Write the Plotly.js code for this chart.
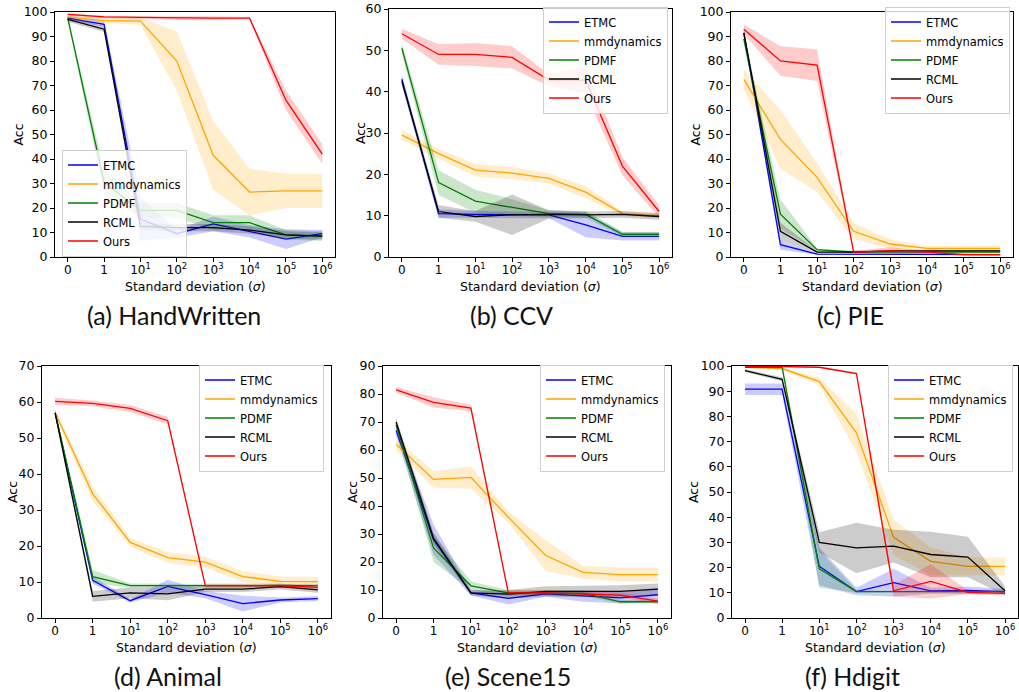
<!DOCTYPE html>
<html><head><meta charset="utf-8">
<script src="https://cdn.plot.ly/plotly-3.0.1.min.js"></script>
<style>html,body{margin:0;padding:0;background:#fff}#chart{width:1019px;height:692px}</style>
</head><body><div id="chart"></div>
<script>
// ---------- data ----------
const xTickLabels = ["0", "1", "10<sup>1</sup>", "10<sup>2</sup>", "10<sup>3</sup>", "10<sup>4</sup>", "10<sup>5</sup>", "10<sup>6</sup>"];
const methods = ["ETMC", "mmdynamics", "PDMF", "RCML", "Ours"];
const datasetNames = ["(a) HandWritten", "(b) CCV", "(c) PIE", "(d) Animal", "(e) Scene15", "(f) Hdigit"];
const yMaxes = [100, 60, 100, 70, 90, 100];

// HandWritten
const handwrittenETMC = [97.5, 95, 15.5, 9.5, 13.5, 10.5, 7.3, 9.5];
const handwrittenETMCStd = [1, 1, 9, 1.5, 3, 2.5, 4, 1.5];
const handwrittenMmdynamics = [98, 96.5, 96.3, 80, 41.5, 26.5, 27, 27];
const handwrittenMmdynamicsStd = [1, 1, 1.5, 12, 14, 9.5, 7, 7];
const handwrittenPDMF = [97.5, 30.5, 19, 19, 14, 14, 9, 8.5];
const handwrittenPDMFStd = [1, 5, 3, 3, 3, 3, 2, 2];
const handwrittenRCML = [97, 93, 12.5, 12, 12, 11, 9, 8.5];
const handwrittenRCMLStd = [1, 1.2, 1.5, 1.5, 1.5, 1.5, 1.5, 1.5];
const handwrittenOurs = [99, 98, 97.8, 97.5, 97.5, 97.5, 64, 42];
const handwrittenOursStd = [0.5, 0.5, 0.5, 0.8, 0.8, 0.5, 4, 4];

// CCV
const ccvETMC = [43, 10.5, 10.3, 10.2, 10.2, 7.8, 5, 5];
const ccvETMCStd = [1.2, 1, 0.8, 0.8, 0.8, 3, 1, 1];
const ccvMmdynamics = [29.5, 25, 21, 20.3, 19, 15.7, 10.5, 10];
const ccvMmdynamicsStd = [1.2, 1.2, 1.5, 1.5, 1.2, 1.5, 0.5, 0.6];
const ccvPDMF = [50.5, 18, 13.5, 12, 10.5, 10.3, 5.5, 5.5];
const ccvPDMFStd = [1.3, 3, 2.8, 2, 0.8, 0.8, 0.6, 0.6];
const ccvRCML = [42.5, 11, 9.8, 10.2, 10.3, 10.2, 10.3, 9.8];
const ccvRCMLStd = [1, 1.5, 1.3, 4.9, 1, 0.8, 0.8, 0.8];
const ccvOurs = [54, 49, 49, 48.3, 42.8, 42.8, 22, 11];
const ccvOursStd = [1.2, 2.5, 2.8, 2.7, 1.5, 3.3, 2.2, 1.5];

// PIE
const pieETMC = [91.5, 5, 1.2, 1.2, 1.2, 1.2, 1, 1];
const pieETMCStd = [1.5, 2, 0.3, 0.3, 0.3, 0.3, 0.3, 0.3];
const pieMmdynamics = [72.5, 48, 32.5, 10.5, 5.3, 3.5, 3.5, 3.5];
const pieMmdynamicsStd = [4, 12, 6, 3.3, 1.8, 1, 1, 1.2];
const piePDMF = [89, 17.5, 3, 2, 2, 2, 2, 2];
const piePDMFStd = [2, 6, 0.5, 0.5, 0.5, 0.5, 0.5, 0.5];
const pieRCML = [91.5, 10.5, 2, 2, 2.5, 2.5, 2.5, 2.5];
const pieRCMLStd = [2, 3.5, 0.5, 0.5, 0.5, 0.5, 0.5, 0.5];
const pieOurs = [93, 80, 78.3, 2, 2.5, 2, 1, 1];
const pieOursStd = [2, 6, 6.5, 0.5, 1.5, 0.5, 0.3, 0.3];

// Animal
const animalETMC = [57, 10.5, 4.8, 8.8, 6.5, 4, 5, 5.4];
const animalETMCStd = [0.8, 1, 0.5, 1.8, 1, 2.2, 0.7, 0.7];
const animalMmdynamics = [57, 34.5, 21, 16.8, 15.5, 11.5, 10.2, 10.1];
const animalMmdynamicsStd = [1, 2, 1.2, 1.5, 1.5, 1.5, 1.3, 1.3];
const animalPDMF = [57, 11.5, 9, 9, 9, 9, 9, 9];
const animalPDMFStd = [0.8, 1.8, 0.6, 0.5, 0.5, 0.5, 0.5, 0.5];
const animalRCML = [57, 6, 7, 6.7, 8, 8, 8.7, 7.8];
const animalRCMLStd = [0.8, 1.5, 1.5, 1.8, 0.8, 0.8, 0.8, 0.8];
const animalOurs = [60.2, 59.6, 58.2, 54.8, 9, 9, 9, 8.5];
const animalOursStd = [1, 0.8, 1, 1, 0.5, 0.5, 0.5, 0.5];

// Scene15
const scene15ETMC = [67, 28, 9, 7, 8.6, 7.8, 7.2, 8.3];
const scene15ETMCStd = [2, 5.5, 1, 2.2, 1, 2, 2, 2.5];
const scene15Mmdynamics = [62, 49.5, 50.2, 36, 22.3, 16.3, 15.5, 15.5];
const scene15MmdynamicsStd = [2, 3, 4, 2, 5.5, 2.3, 2.5, 2.5];
const scene15PDMF = [69, 25, 11.5, 9, 9, 8.8, 5.8, 5.8];
const scene15PDMFStd = [1.5, 5, 1.5, 1, 1, 1, 0.6, 0.6];
const scene15RCML = [70, 28.5, 9, 8.5, 9.5, 9.5, 9.5, 10.3];
const scene15RCMLStd = [1.5, 2, 1, 1.5, 1.8, 2, 2.2, 2];
const scene15Ours = [81.5, 77, 75, 9, 9, 8.7, 8.2, 6];
const scene15OursStd = [1, 1.8, 1.2, 0.8, 0.8, 0.8, 0.8, 1];

// Hdigit
const hdigitETMC = [90.8, 90.8, 20.5, 10.5, 14, 10.8, 11, 10.5];
const hdigitETMCStd = [2.3, 2.3, 7.5, 1.5, 5.5, 1.2, 1.5, 1];
const hdigitMmdynamics = [99.5, 99, 93.8, 73.5, 32, 22.5, 20.5, 20.5];
const hdigitMmdynamicsStd = [0.3, 0.5, 1.5, 7.5, 7, 5.5, 3.5, 3.5];
const hdigitPDMF = [99.5, 99.5, 19.5, 10.5, 10.5, 10.5, 10.5, 10.5];
const hdigitPDMFStd = [0.3, 0.3, 7.5, 0.5, 0.3, 0.3, 0.3, 0.3];
const hdigitRCML = [98.2, 94.7, 30, 27.8, 28.5, 25.2, 24.2, 10.8];
const hdigitRCMLStd = [0.6, 0.8, 4, 10, 6.5, 9, 8, 1.8];
const hdigitOurs = [99.8, 99.8, 99.5, 97, 10.8, 14.5, 10.2, 9.8];
const hdigitOursStd = [0.2, 0.2, 0.3, 0.5, 2.3, 6.8, 0.8, 0.8];

// ---------- assemble ----------
const datasets = [
  [[handwrittenETMC, handwrittenETMCStd], [handwrittenMmdynamics, handwrittenMmdynamicsStd], [handwrittenPDMF, handwrittenPDMFStd], [handwrittenRCML, handwrittenRCMLStd], [handwrittenOurs, handwrittenOursStd]],
  [[ccvETMC, ccvETMCStd], [ccvMmdynamics, ccvMmdynamicsStd], [ccvPDMF, ccvPDMFStd], [ccvRCML, ccvRCMLStd], [ccvOurs, ccvOursStd]],
  [[pieETMC, pieETMCStd], [pieMmdynamics, pieMmdynamicsStd], [piePDMF, piePDMFStd], [pieRCML, pieRCMLStd], [pieOurs, pieOursStd]],
  [[animalETMC, animalETMCStd], [animalMmdynamics, animalMmdynamicsStd], [animalPDMF, animalPDMFStd], [animalRCML, animalRCMLStd], [animalOurs, animalOursStd]],
  [[scene15ETMC, scene15ETMCStd], [scene15Mmdynamics, scene15MmdynamicsStd], [scene15PDMF, scene15PDMFStd], [scene15RCML, scene15RCMLStd], [scene15Ours, scene15OursStd]],
  [[hdigitETMC, hdigitETMCStd], [hdigitMmdynamics, hdigitMmdynamicsStd], [hdigitPDMF, hdigitPDMFStd], [hdigitRCML, hdigitRCMLStd], [hdigitOurs, hdigitOursStd]]
];

const lineColors = ["#0000ff", "#ffa500", "#008000", "#000000", "#ff0000"];
const fillColors = ["rgba(0,0,255,0.2)", "rgba(255,165,0,0.2)", "rgba(0,128,0,0.2)", "rgba(0,0,0,0.2)", "rgba(255,0,0,0.2)"];

const W = 1019, H = 692;
// axes boxes in pixels: [left, right, top, bottom]
const boxes = [
  [55, 335, 12, 257], [389, 672, 9, 257], [731, 1013, 12, 257],
  [42, 331, 366, 618], [383, 671, 366, 618], [732, 1018, 366, 618]
];
// legend left edge and vertical centre, in pixels
const legendPos = [[62, 203], [543, 60], [885, 60], [199, 418], [540, 418], [888, 418]];
const yTitleX = [18, 360, 695, 12, 352, 693];
const captionX = [174, 512, 850, 168, 508, 852];

const xs = [0, 1, 2, 3, 4, 5, 6, 7];
const traces = [];
const layout = {
  width: W, height: H, margin: {l: 0, r: 0, t: 0, b: 0},
  paper_bgcolor: "#fff", plot_bgcolor: "#fff",
  font: {family: "DejaVu Sans", size: 12, color: "#000"},
  annotations: [], showlegend: true
};

datasets.forEach((ds, d) => {
  const [l, r, t, b] = boxes[d];
  const sfx = d === 0 ? "" : String(d + 1);
  const xa = "x" + sfx, ya = "y" + sfx;
  const legName = "legend" + sfx;
  ds.forEach(([mean, std], m) => {
    const upper = mean.map((v, i) => v + std[i]);
    const lower = mean.map((v, i) => v - std[i]);
    traces.push({
      x: xs.concat(xs.slice().reverse()), y: upper.concat(lower.slice().reverse()),
      xaxis: xa, yaxis: ya, mode: "none", fill: "toself", fillcolor: fillColors[m],
      showlegend: false, hoverinfo: "skip", type: "scatter"
    });
    traces.push({
      x: xs, y: mean, xaxis: xa, yaxis: ya, mode: "lines", name: methods[m],
      line: {color: lineColors[m], width: 1.3}, legend: legName, type: "scatter"
    });
  });
  layout["xaxis" + sfx] = {
    domain: [l / W, r / W], anchor: ya, range: [-0.35, 7.35],
    tickvals: xs, ticktext: xTickLabels, ticks: "outside", ticklen: 4, tickcolor: "#000",
    ticklabelstandoff: -2,
    showline: true, linecolor: "#000", linewidth: 1, mirror: true,
    showgrid: false, zeroline: false, tickfont: {size: 12}, fixedrange: true
  };
  layout["yaxis" + sfx] = {
    domain: [1 - b / H, 1 - t / H], anchor: xa, range: [0, yMaxes[d]], dtick: 10,
    ticks: "outside", ticklen: 4, tickcolor: "#000",
    showline: true, linecolor: "#000", linewidth: 1, mirror: true,
    showgrid: false, zeroline: false, tickfont: {size: 12.5}, fixedrange: true
  };
  layout[legName] = {
    x: legendPos[d][0] / W, y: 1 - legendPos[d][1] / H, xanchor: "left", yanchor: "middle",
    bgcolor: "rgba(255,255,255,0.8)", bordercolor: "#d0d0d0", borderwidth: 1,
    font: {family: "DejaVu Sans", size: 11.5, color: "#000"}, itemwidth: 30
  };
  layout.annotations.push({
    text: "Acc", xref: "paper", yref: "paper", x: yTitleX[d] / W, y: 1 - (t + b) / 2 / H,
    textangle: -90, showarrow: false, xanchor: "center", yanchor: "middle",
    font: {family: "DejaVu Sans", size: 12.5, color: "#000"}
  });
  layout.annotations.push({
    text: "Standard deviation (<i>σ</i>)", xref: "paper", yref: "paper",
    x: (l + r) / 2 / W, y: 1 - (b + 29) / H, showarrow: false, xanchor: "center", yanchor: "middle",
    font: {family: "DejaVu Sans", size: 12.5, color: "#000"}
  });
  layout.annotations.push({
    text: datasetNames[d], xref: "paper", yref: "paper",
    x: captionX[d] / W, y: 1 - (b + 58) / H, showarrow: false, xanchor: "center", yanchor: "middle",
    font: {family: "Lato", size: 25, color: "#111"}
  });
});

Plotly.newPlot("chart", traces, layout, {staticPlot: true, displayModeBar: false});
</script>
</body></html>
